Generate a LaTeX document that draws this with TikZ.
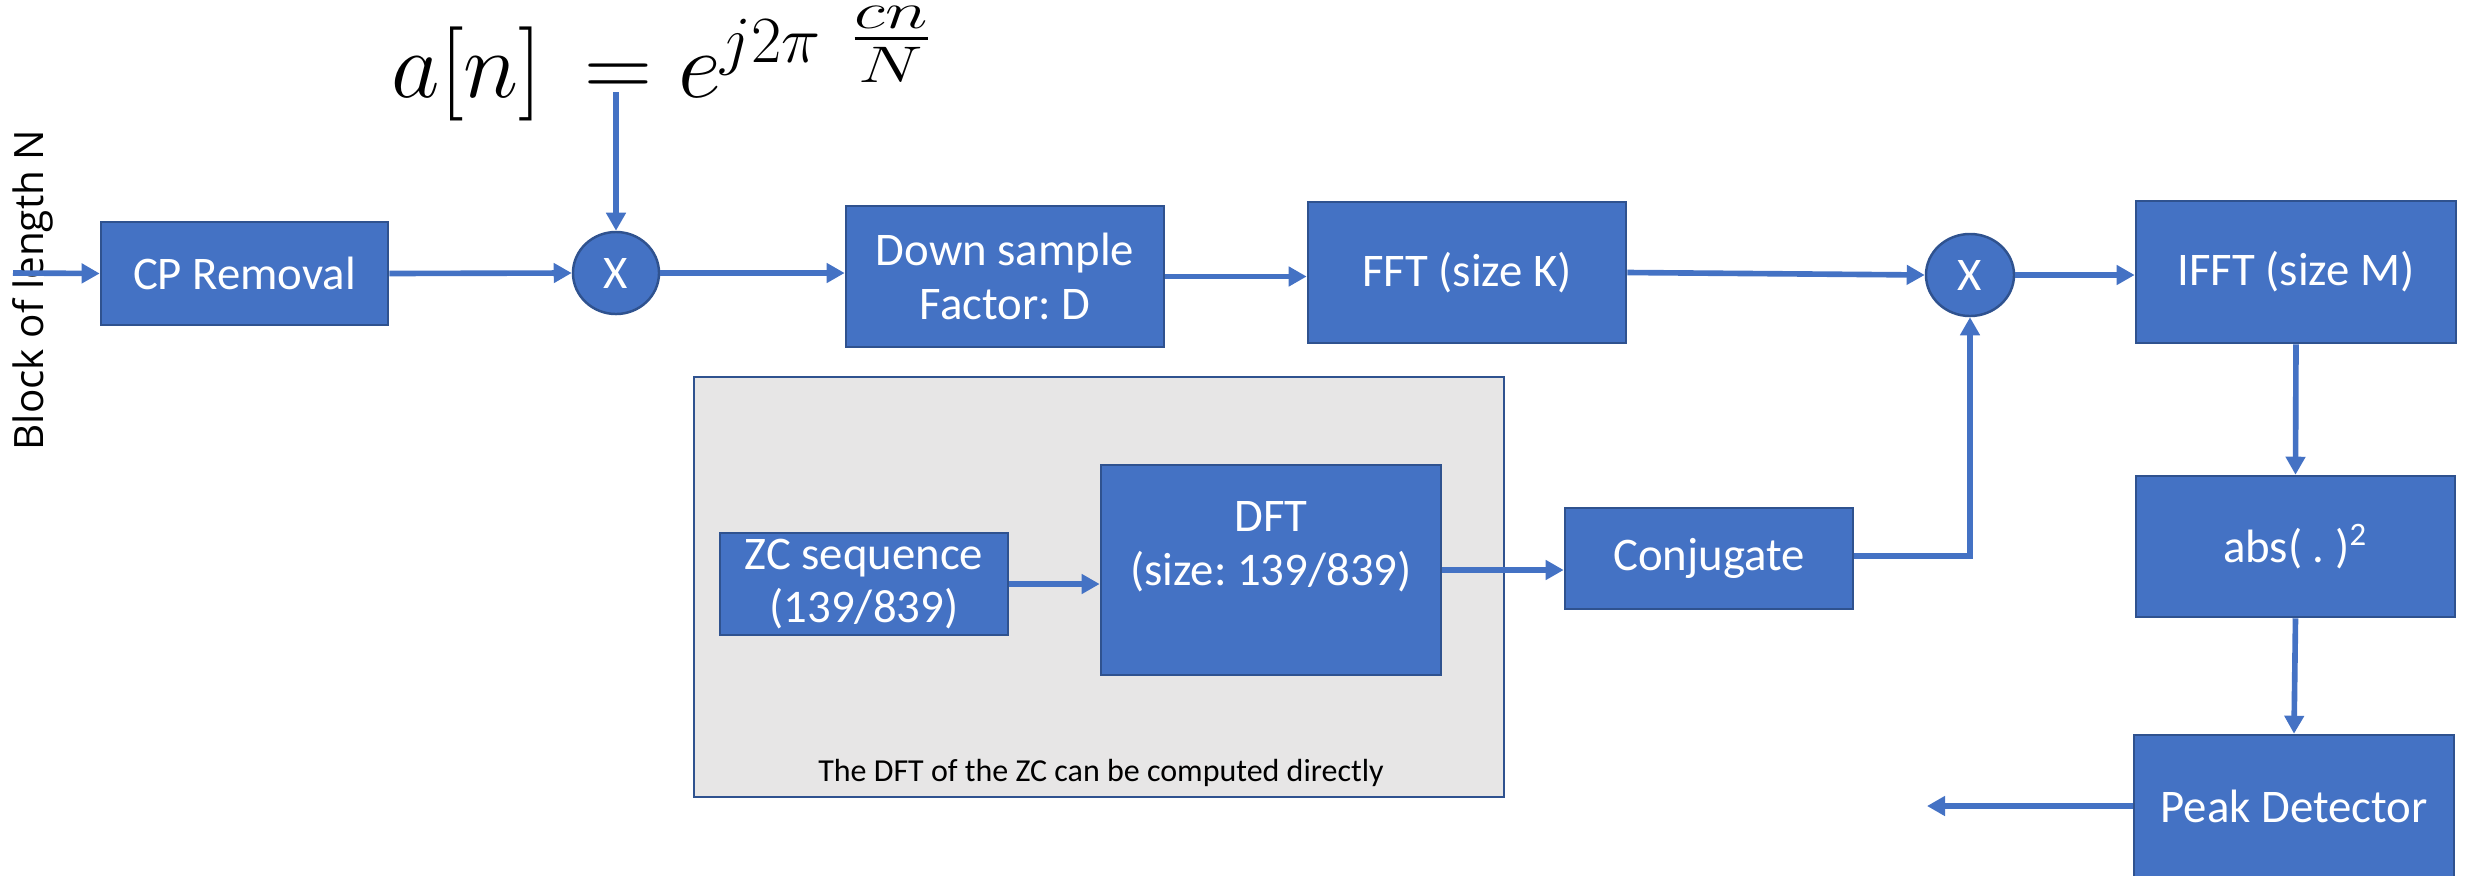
\documentclass[tikz,border=0pt]{standalone}
\usepackage{fix-cm}
\usepackage{amsmath}
\usepackage{graphicx}
\usepackage{fontspec}
\setmainfont{Carlito}
\newfontfamily\labelfont{Open Sans}
\usetikzlibrary{arrows.meta,shapes.geometric}
\frenchspacing

\definecolor{boxblue}{HTML}{4472C4}
\definecolor{edgeblue}{HTML}{2F528F}
\definecolor{panelgray}{HTML}{E7E6E6}

\tikzset{
  block/.style={draw=edgeblue, fill=boxblue, line width=0.7pt, text=white,
    inner sep=0pt, align=center, font=\fontsize{13.3}{15.3}\selectfont},
  mult/.style={ellipse, draw=edgeblue, fill=boxblue, line width=0.7pt, text=white,
    inner sep=0pt, font=\fontsize{13.3}{15.3}\selectfont},
  flow/.style={draw=boxblue, line width=1.6pt,
    -{Triangle[length=0.18cm,width=0.19cm]}},
}

\begin{document}
\begin{tikzpicture}[x=0.01cm, y=-0.01cm]
  \useasboundingbox (0,0) rectangle (2471,875);

  % input label and formula
  \node[rotate=90, anchor=base, inner sep=0pt, font=\labelfont\fontsize{11.5}{13}\selectfont]
    (blocklabel) at (44,290) {Block of length N};
  \node[anchor=base west, inner sep=0pt, font=\fontsize{26.8}{30}\selectfont]
    (formula) at (391,97)
    {$a[n]\mkern3mu = e^{j2\pi\mkern8mu\smash{\raisebox{0.06em}{\scalebox{1.1}[0.78]{$\tfrac{cn}{N}$}}}}$};

  % grey panel holding the ZC branch
  \node[draw=edgeblue, fill=panelgray, line width=0.6pt, inner sep=0pt,
    minimum width=8.10cm, minimum height=4.20cm] (panel) at (1099,587) {};
  \node[anchor=base, inner sep=0pt, font=\fontsize{9.1}{11}\selectfont]
    (caption) at (1101,781) {The DFT of the ZC can be computed directly};

  % main chain
  \node[block, minimum width=2.87cm, minimum height=1.03cm] (cp) at (244.5,273.5) {CP Removal};
  \node[mult, minimum width=0.86cm, minimum height=0.82cm] (mul1) at (616,273) {X};
  \node[block, minimum width=3.18cm, minimum height=1.41cm] (ds) at (1005,276.5) {Down sample\\Factor: D};
  \node[block, minimum width=3.18cm, minimum height=1.41cm] (fft) at (1467,272.5) {FFT (size K)};
  \node[mult, minimum width=0.88cm, minimum height=0.82cm] (mul2) at (1970,275) {X};
  \node[block, minimum width=3.20cm, minimum height=1.42cm] (ifft) at (2296,272) {IFFT (size M)};
  \node[block, minimum width=3.19cm, minimum height=1.41cm] (abs) at (2295.5,546.5) {abs( . )\textsuperscript{2}};
  \node[block, minimum width=3.20cm, minimum height=1.42cm] (peak) at (2294,806) {Peak Detector};

  % reference branch
  \node[block, minimum width=2.88cm, minimum height=1.02cm] (zc) at (864,584) {ZC sequence\\(139/839)};
  \node[block, minimum width=3.40cm, minimum height=2.10cm] (dft) at (1271,570) {DFT\\(size: 139/839)\\\mbox{}};
  \node[block, minimum width=2.88cm, minimum height=1.01cm] (conj) at (1709,558.5) {Conjugate};

  \coordinate (src) at (13,273);
  \coordinate (sink) at (1927,806);

  % connectors
  \draw[flow] (src) -- (cp.west);
  \draw[flow] (cp.east) -- (mul1.west);
  \draw[flow] ([yshift=0.05cm]formula.base -| mul1.north) -- (mul1.north);
  \draw[flow] (mul1.east) -- (mul1.east -| ds.west);
  \draw[flow] (ds.east) -- (ds.east -| fft.west);
  \draw[flow] (fft.east) -- (mul2.west);
  \draw[flow] (mul2.east) -- (mul2.east -| ifft.west);
  \draw[flow] (ifft.south) -- (abs.north);
  \draw[flow] (abs.south) -- (peak.north);
  \draw[flow] (peak.west) -- (sink);
  \draw[flow] (zc.east) -- (zc.east -| dft.west);
  \draw[flow] (dft.east) -- (dft.east -| conj.west);
  \draw[flow] ([yshift=0.025cm]conj.east) -| (mul2.south);
\end{tikzpicture}
\end{document}
